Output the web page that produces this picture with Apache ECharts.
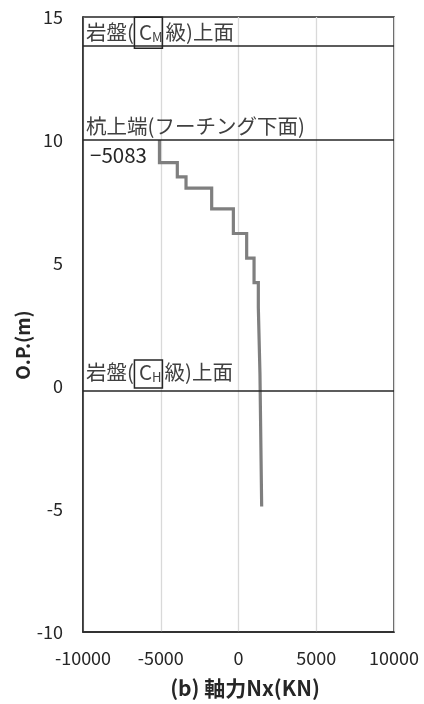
<!DOCTYPE html>
<html><head><meta charset="utf-8">
<script src="https://cdn.jsdelivr.net/npm/echarts@6/dist/echarts.min.js"></script>
<style>html,body{margin:0;padding:0;background:#fff}#c{width:424px;height:704px}</style>
</head><body><div id="c"></div>
<script>
// ---- data ----
const depthLevels = [10, 9.08, 8.5, 8.04, 7.2, 6.2, 5.2, 4.2, 3.2, 0.5, -4.9];
const axialForce = [-5083, -3935, -3375, -1725, -330, 525, 1000, 1275, 1380, 1490];
const layerLevels = [13.85, 10, -0.2];
const layerLabels = ['岩盤({c|C}{s|M}級)上面', '杭上端(フーチング下面)', '岩盤({c|C}{s|H}級)上面'];
const topValueLabel = '−5083';
const xTicks = [-10000, -5000, 0, 5000, 10000];
const yTicks = [-10, -5, 0, 5, 10, 15];
const xTitle = '(b) 軸力Nx(KN)';
const yTitle = 'O.P.(m)';

const pts = [];
for (let i = 0; i < axialForce.length; i++) {
  pts.push([axialForce[i], depthLevels[i]]);
  pts.push([axialForce[i], depthLevels[i + 1]]);
}

const FONT = '"Noto Sans CJK JP","Noto Sans",sans-serif';
const chart = echarts.init(document.getElementById('c'), null, {renderer: 'canvas'});
const option = {
  animation: false,
  grid: {left: 83, right: 30, top: 17, bottom: 72, show: true, borderColor: '#262626', borderWidth: 1.5, backgroundColor: 'transparent'},
  xAxis: {
    type: 'value', min: xTicks[0], max: xTicks[xTicks.length - 1], interval: 5000,
    axisLine: {show: true, onZero: false, lineStyle: {color: '#262626', width: 1.5}},
    axisTick: {show: false},
    splitLine: {show: true, lineStyle: {color: '#d9d9d9', width: 1.3}},
    axisLabel: {color: '#262626', fontSize: 18, fontFamily: FONT, margin: 17, formatter: v => String(v)}
  },
  yAxis: {
    type: 'value', min: yTicks[0], max: yTicks[yTicks.length - 1], interval: 5,
    axisLine: {show: true, onZero: false, lineStyle: {color: '#262626', width: 1.5}},
    axisTick: {show: false},
    splitLine: {show: false},
    axisLabel: {color: '#262626', fontSize: 18, fontFamily: FONT, margin: 20, formatter: v => String(v)}
  },
  series: [{
    type: 'line', data: pts, symbol: 'none', z: 3, sampling: null,
    lineStyle: {color: '#7f7f7f', width: 3.2, join: 'miter'},
    markLine: {
      silent: true, symbol: 'none', label: {show: false},
      lineStyle: {color: '#262626', width: 1.5, type: 'solid'},
      data: layerLevels.map(v => ({yAxis: v}))
    }
  }]
};
chart.setOption(option);

function measure(t, size) {
  const c = document.createElement('canvas').getContext('2d');
  c.font = size + 'px ' + FONT;
  return c.measureText(t).width;
}
const gl = 83;
const fs = 20.5;
const labelOffsets = [9, 10, 15];
const g = [];
layerLevels.forEach((v, i) => {
  const y = chart.convertToPixel({xAxisIndex: 0, yAxisIndex: 0}, [0, v])[1];
  const cy = y - labelOffsets[i];
  g.push({
    type: 'text', left: gl + 3, top: cy - 14, z: 10,
    style: {text: layerLabels[i], font: fs + 'px ' + FONT, fill: '#404040',
      rich: {
        c: {fontSize: fs, fontFamily: FONT, fill: '#404040', padding: [0, 0, 0, 5]},
        s: {fontSize: 13, fontFamily: FONT, fill: '#404040', verticalAlign: 'bottom', padding: [9, 3, 0, 0]}
      }}
  });
  if (i !== 1) {
    const x0 = gl + 3 + measure('岩盤(', fs);
    const w = 28;
    const top = i === 0 ? y - 28 : cy - 16;
    const h = i === 0 ? 31 : 28;
    g.push({type: 'rect', shape: {x: x0 + 0.5, y: top, width: w, height: h}, z: 11,
      style: {fill: 'none', stroke: '#262626', lineWidth: 1.5}});
  }
});
const p10 = chart.convertToPixel({xAxisIndex: 0, yAxisIndex: 0}, [axialForce[0], depthLevels[0]]);
g.push({type: 'text', left: gl + 7, top: p10[1] + 5, z: 10,
  style: {text: topValueLabel, font: fs + 'px ' + FONT, fill: '#262626'}});
g.push({type: 'text', x: 245, y: 688, z: 10,
  style: {text: xTitle, font: 'bold 21px ' + FONT, fill: '#262626', align: 'center', verticalAlign: 'middle'}});
g.push({type: 'text', x: 23, y: 345, rotation: Math.PI / 2, z: 10,
  style: {text: yTitle, font: 'bold 19px ' + FONT, fill: '#262626', align: 'center', verticalAlign: 'middle'}});
chart.setOption({graphic: g});
</script></body></html>
